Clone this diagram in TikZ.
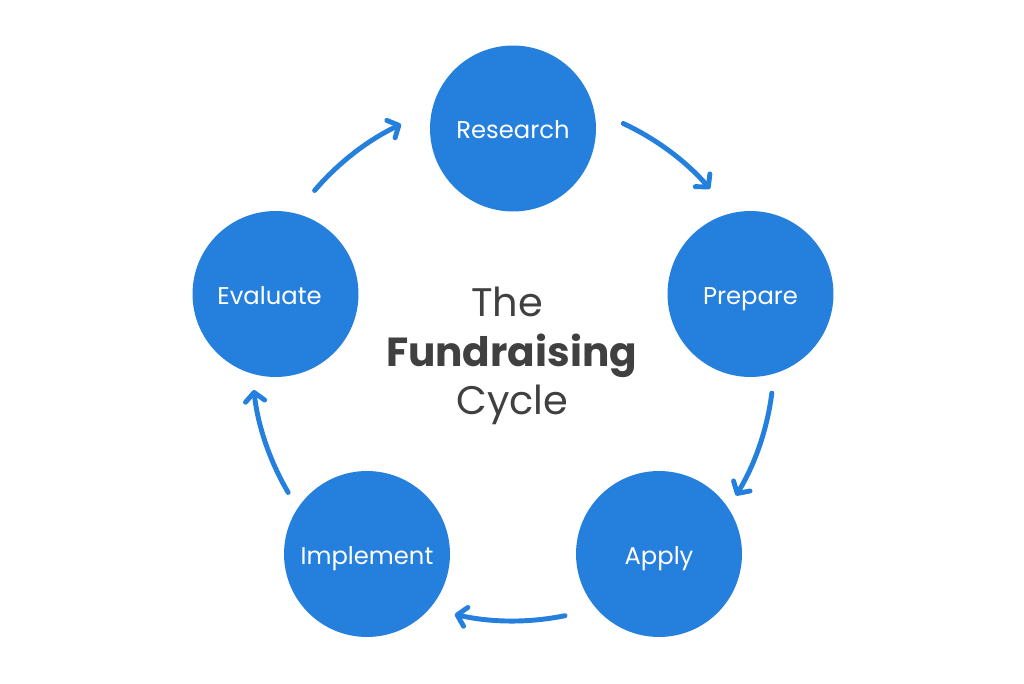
\documentclass[tikz,border=0pt]{standalone}
\usepackage{fontspec}
\setmainfont{Poppins}
\usetikzlibrary{arrows.meta}
\definecolor{stageblue}{RGB}{36,127,221}
\definecolor{titlegray}{RGB}{64,64,64}
\begin{document}
\begin{tikzpicture}[x=0.02cm,y=0.02cm,
  stage/.style={circle,fill=stageblue,text=white,minimum size=3.32cm,inner sep=0pt,
    font=\fontsize{13.8}{16}\selectfont,text height=11.5pt,text depth=0pt},
  cyc/.style={stageblue,line width=2.8pt,line cap=round,
    -{Straight Barb[length=5pt,width=11pt,line join=round,line cap=round]}},
  title/.style={text=titlegray,anchor=base,font=\fontsize{22.7}{27}\selectfont}]
  \useasboundingbox (0,0) rectangle (1024,683);
  % the five stages
  \node[stage] (research)  at (513,554.5) {Research};
  \node[stage] (prepare)   at (750.5,389) {Prepare};
  \node[stage] (apply)     at (659,129)   {Apply};
  \node[stage] (implement) at (367,129)   {Implement};
  \node[stage] (evaluate)  at (275.5,389) {Evaluate\kern6.8pt};
  % arrows run round the hub
  \coordinate (hub) at (513,323);
  \foreach \a/\b in {139.5/115.4, 65/41, -7.3/-31.3, -78.5/-102.9, -149.5/-173.4}
    \draw[cyc] (hub) ++(\a:5.22cm) arc[start angle=\a, end angle=\b, radius=5.22cm];
  \node[title] (the)   at (507,366)   {The};
  \node[title,font=\fontsize{23.1}{27}\selectfont\bfseries] (fund) at (511.5,316) {Fundraising};
  \node[title] (cycle) at (512.5,268) {Cycle};
\end{tikzpicture}
\end{document}
